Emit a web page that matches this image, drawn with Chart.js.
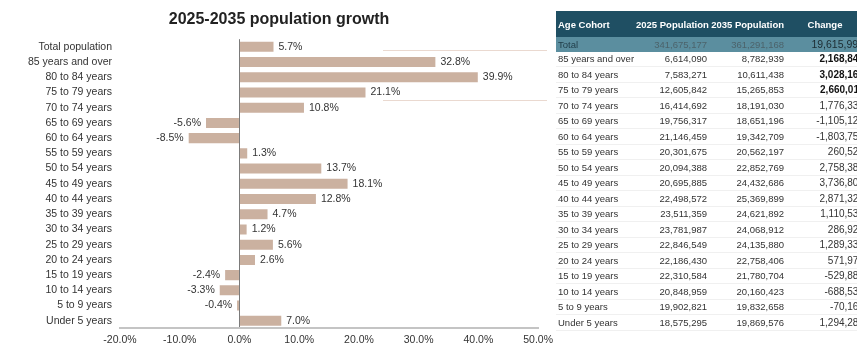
<!DOCTYPE html>
<html>
<head>
<meta charset="utf-8">
<script src="https://cdn.jsdelivr.net/npm/chart.js@4.4.0/dist/chart.umd.min.js"></script>
<style>
  html, body { margin: 0; padding: 0; background: #fff; overflow: hidden; }
  body { width: 857px; height: 353px; position: relative; font-family: "Liberation Sans", Arial, sans-serif; }
  #chartBox { position: absolute; left: 0; top: 0; width: 558px; height: 353px; }
  .rule { position: absolute; left: 383px; width: 164px; height: 1px; background: #ead9d0; }
  #tabela { position: absolute; left: 556px; top: 11px; }
  table { border-collapse: collapse; table-layout: fixed; width: 308px; font-size: 9.5px; color: #333; }
  th { background: #1f4f63; color: #fff; font-weight: bold; height: 26px; padding: 0 2px; white-space: nowrap; }
  td { height: 14.5px; padding: 0 2px; border-bottom: 1px solid #f0f0f0; white-space: nowrap; }
  tr.total td { background: #5b8e9f; color: #4c636b; border-bottom: none; }
  tr.total td:first-child { color: #1f3c48; }
  tr.total td:last-child { color: #1c2b31; font-size: 10.5px; }
  td.num { text-align: right; }
  td.chg { text-align: right; font-size: 10px; padding-right: 0; }
  td.forte { font-weight: bold; color: #111; }
</style>
</head>
<body>
<div id="chartBox"><canvas id="grafico"></canvas></div>
<div class="rule" style="top:50px"></div>
<div class="rule" style="top:100px"></div>
<div id="tabela"><table></table></div>

<script>
// Crescimento por faixa etária (%)
const faixas = ['Total population', '85 years and over', '80 to 84 years', '75 to 79 years', '70 to 74 years',
  '65 to 69 years', '60 to 64 years', '55 to 59 years', '50 to 54 years', '45 to 49 years', '40 to 44 years',
  '35 to 39 years', '30 to 34 years', '25 to 29 years', '20 to 24 years', '15 to 19 years', '10 to 14 years',
  '5 to 9 years', 'Under 5 years'];
const crescimento = [5.7, 32.8, 39.9, 21.1, 10.8, -5.6, -8.5, 1.3, 13.7, 18.1, 12.8, 4.7, 1.2, 5.6, 2.6, -2.4, -3.3, -0.4, 7.0];

// Tabela lateral
const cabecalho = ['Age Cohort', '2025 Population', '2035 Population', 'Change'];
const coortes = ['Total', '85 years and over', '80 to 84 years', '75 to 79 years', '70 to 74 years',
  '65 to 69 years', '60 to 64 years', '55 to 59 years', '50 to 54 years', '45 to 49 years', '40 to 44 years',
  '35 to 39 years', '30 to 34 years', '25 to 29 years', '20 to 24 years', '15 to 19 years', '10 to 14 years',
  '5 to 9 years', 'Under 5 years'];
const pop2025 = [341675177, 6614090, 7583271, 12605842, 16414692, 19756317, 21146459, 20301675, 20094388,
  20695885, 22498572, 23511359, 23781987, 22846549, 22186430, 22310584, 20848959, 19902821, 18575295];
const pop2035 = [361291168, 8782939, 10611438, 15265853, 18191030, 18651196, 19342709, 20562197, 22852769,
  24432686, 25369899, 24621892, 24068912, 24135880, 22758406, 21780704, 20160423, 19832658, 19869576];
const variacao = [19615991, 2168849, 3028167, 2660011, 1776338, -1105121, -1803750, 260522, 2758381,
  3736801, 2871327, 1110533, 286925, 1289331, 571976, -529880, -688536, -70163, 1294281];
const destaques = [1, 2, 3]; // linhas com a variação em negrito

const fmt = n => n.toLocaleString('en-US');

function montarTabela() {
  const tabela = document.querySelector('#tabela table');
  const larguras = [78, 75, 77, 78];
  const cg = document.createElement('colgroup');
  larguras.forEach(w => {
    const c = document.createElement('col');
    c.style.width = w + 'px';
    cg.appendChild(c);
  });
  tabela.appendChild(cg);

  const head = tabela.insertRow();
  cabecalho.forEach((txt, i) => {
    const th = document.createElement('th');
    th.textContent = txt;
    th.style.textAlign = i === 0 ? 'left' : (i === 3 ? 'center' : 'right');
    head.appendChild(th);
  });

  for (let i = 0; i < coortes.length; i++) {
    const row = tabela.insertRow();
    if (i === 0) row.className = 'total';
    row.insertCell().textContent = coortes[i];
    const a = row.insertCell(); a.textContent = fmt(pop2025[i]); a.className = 'num';
    const b = row.insertCell(); b.textContent = fmt(pop2035[i]); b.className = 'num';
    const c = row.insertCell(); c.textContent = fmt(variacao[i]);
    c.className = 'chg' + (destaques.includes(i) ? ' forte' : '');
  }
}

// Rótulos de valor ao lado das barras
const rotulosBarras = {
  id: 'rotulosBarras',
  afterDatasetsDraw(chart) {
    const ctx = chart.ctx;
    const meta = chart.getDatasetMeta(0);
    ctx.save();
    ctx.font = '10.5px "Liberation Sans", Arial, sans-serif';
    ctx.fillStyle = '#333';
    ctx.textBaseline = 'middle';
    meta.data.forEach((bar, i) => {
      const v = chart.data.datasets[0].data[i];
      const txt = v.toFixed(1) + '%';
      if (v >= 0) {
        ctx.textAlign = 'left';
        ctx.fillText(txt, bar.x + 5, bar.y);
      } else {
        ctx.textAlign = 'right';
        ctx.fillText(txt, bar.x - 5, bar.y);
      }
    });
    ctx.restore();
  }
};

function gerarGrafico() {
  const ctx = document.getElementById('grafico').getContext('2d');
  new Chart(ctx, {
    type: 'bar',
    data: {
      labels: faixas,
      datasets: [{
        data: crescimento,
        backgroundColor: '#cbb1a0',
        barPercentage: 0.66,
        categoryPercentage: 1.0
      }]
    },
    options: {
      indexAxis: 'y',
      responsive: true,
      maintainAspectRatio: false,
      animation: false,
      layout: { padding: { left: 0, right: 0, top: 0, bottom: 2 } },
      plugins: {
        legend: { display: false },
        tooltip: { enabled: false },
        title: {
          display: true,
          text: '2025-2035 population growth',
          color: '#222',
          font: { family: '"Liberation Sans", Arial, sans-serif', size: 16, weight: 'bold' },
          padding: { top: 10, bottom: 10 }
        }
      },
      scales: {
        x: {
          min: -20,
          max: 50,
          ticks: {
            stepSize: 10,
            color: '#333',
            padding: 5,
            font: { family: '"Liberation Sans", Arial, sans-serif', size: 10.5 },
            callback: v => v.toFixed(1) + '%'
          },
          grid: {
            drawTicks: false,
            color: c => (c.tick && c.tick.value === 0) ? '#7a7a7a' : 'rgba(0,0,0,0)'
          },
          border: { display: true, color: '#c4c4c4', width: 2 }
        },
        y: {
          afterFit: s => { s.width = 120; },
          ticks: {
            autoSkip: false,
            color: '#333',
            padding: 8,
            font: { family: '"Liberation Sans", Arial, sans-serif', size: 10.5 }
          },
          grid: { display: false, drawTicks: false },
          border: { display: false }
        }
      }
    },
    plugins: [rotulosBarras]
  });
}

montarTabela();
gerarGrafico();
</script>
</body>
</html>
